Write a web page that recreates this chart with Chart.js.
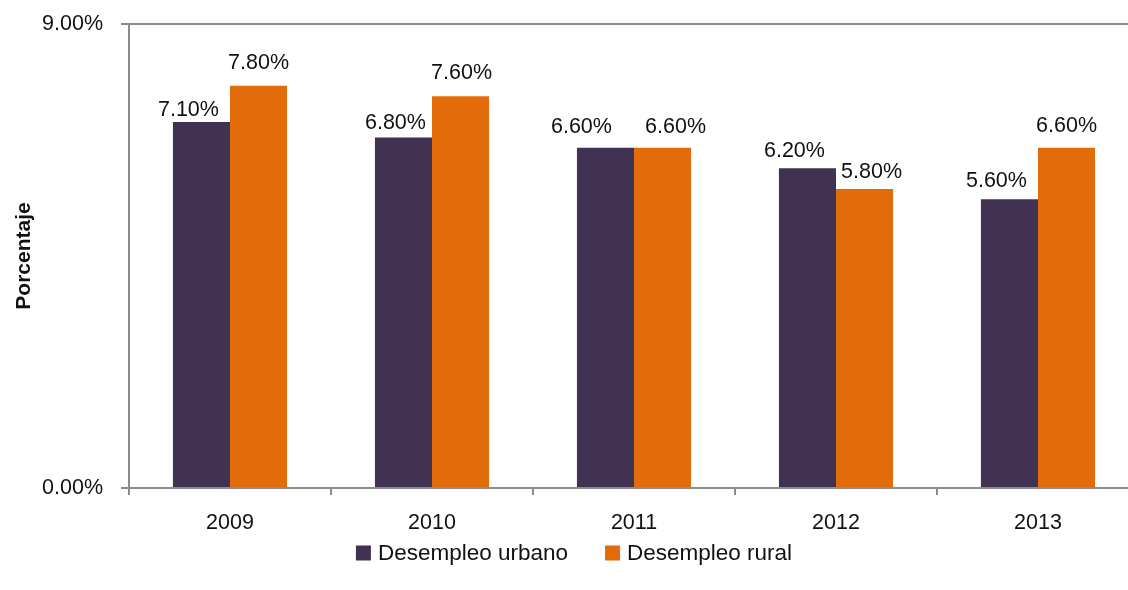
<!DOCTYPE html>
<html>
<head>
<meta charset="utf-8">
<script src="https://cdn.jsdelivr.net/npm/chart.js@4"></script>
<style>
  html, body { margin: 0; padding: 0; background: #fff; overflow: hidden; }
  #wrap { width: 1148px; height: 590px; }
</style>
</head>
<body>
<div id="wrap"><canvas id="chart" width="1148" height="590"></canvas></div>
<script>
// valeurs
const years = ['2009', '2010', '2011', '2012', '2013'];
const urbano = [7.1, 6.8, 6.6, 6.2, 5.6];
const rural = [7.8, 7.6, 6.6, 5.8, 6.6];
const yTicks = [0, 9];

// decalage des etiquettes (comme dans l'original), en px : [dx, ecart au dessus de la barre]
const urbanoLabelPos = [[-13, 6], [-8, 8], [-24, 15], [-13, 11], [-13, 12]];
const ruralLabelPos = [[0, 17], [1, 17], [13, 15], [7, 11], [0, 16]];

const fontFamily = "'Liberation Sans', Arial, sans-serif";
const gridColor = '#8c8c8c';

// etiquettes au dessus des barres + legende dessinee a la main
const barLabels = {
    id: 'barLabels',
    afterDatasetsDraw(chart) {
        const ctx = chart.ctx;
        ctx.save();
        ctx.font = '21.5px ' + fontFamily;
        ctx.fillStyle = '#111';
        ctx.textAlign = 'center';
        ctx.textBaseline = 'alphabetic';
        chart.data.datasets.forEach((ds, i) => {
            const meta = chart.getDatasetMeta(i);
            const pos = i === 0 ? urbanoLabelPos : ruralLabelPos;
            meta.data.forEach((bar, j) => {
                ctx.fillText(ds.data[j].toFixed(2) + '%', bar.x + pos[j][0], bar.y - pos[j][1]);
            });
        });

        // legende
        const box = 15, gap = 7, spacing = 37, cy = 553;
        ctx.font = '22.5px ' + fontFamily;
        ctx.textAlign = 'left';
        ctx.textBaseline = 'middle';
        const widths = chart.data.datasets.map(ds => box + gap + ctx.measureText(ds.label).width);
        const total = widths.reduce((a, b) => a + b, 0) + spacing * (widths.length - 1);
        let x = chart.width / 2 - total / 2;
        chart.data.datasets.forEach((ds, i) => {
            ctx.fillStyle = ds.backgroundColor;
            ctx.fillRect(x, cy - box / 2, box, box);
            ctx.fillStyle = '#111';
            ctx.fillText(ds.label, x + box + gap, cy + 1);
            x += widths[i] + spacing;
        });
        ctx.restore();
    }
};

new Chart(document.getElementById('chart'), {
    type: 'bar',
    data: {
        labels: years,
        datasets: [
            {
                label: 'Desempleo urbano',
                data: urbano,
                backgroundColor: '#413152',
                borderWidth: 0
            },
            {
                label: 'Desempleo rural',
                data: rural,
                backgroundColor: '#e36c0a',
                borderWidth: 0
            }
        ]
    },
    options: {
        responsive: false,
        animation: false,
        categoryPercentage: 0.565,
        barPercentage: 1,
        layout: { padding: { top: 24, right: 9, bottom: 54, left: 0 } },
        plugins: {
            tooltip: { enabled: false },
            legend: { display: false }
        },
        scales: {
            x: {
                grid: {
                    display: true,
                    drawOnChartArea: false,
                    color: gridColor,
                    lineWidth: 2,
                    tickLength: 7
                },
                border: { display: false },
                ticks: {
                    color: '#111',
                    padding: 15,
                    font: { family: fontFamily, size: 21.5 }
                },
                afterFit(scale) { scale.height = 48; }
            },
            y: {
                min: 0,
                max: 9,
                afterBuildTicks(scale) {
                    scale.ticks = yTicks.map(v => ({ value: v }));
                },
                grid: {
                    color: gridColor,
                    lineWidth: 2,
                    tickLength: 8
                },
                border: { color: gridColor, width: 2 },
                ticks: {
                    color: '#111',
                    padding: 18,
                    font: { family: fontFamily, size: 21.5 },
                    callback: v => v.toFixed(2) + '%'
                },
                title: {
                    display: true,
                    text: 'Porcentaje',
                    color: '#111',
                    padding: { top: 12, bottom: 0 },
                    font: { family: fontFamily, size: 21, weight: 'bold' }
                },
                afterFit(scale) {
                    scale.width = 129;
                    scale.paddingTop = 0;
                    scale.paddingBottom = 0;
                }
            }
        }
    },
    plugins: [barLabels]
});
</script>
</body>
</html>
